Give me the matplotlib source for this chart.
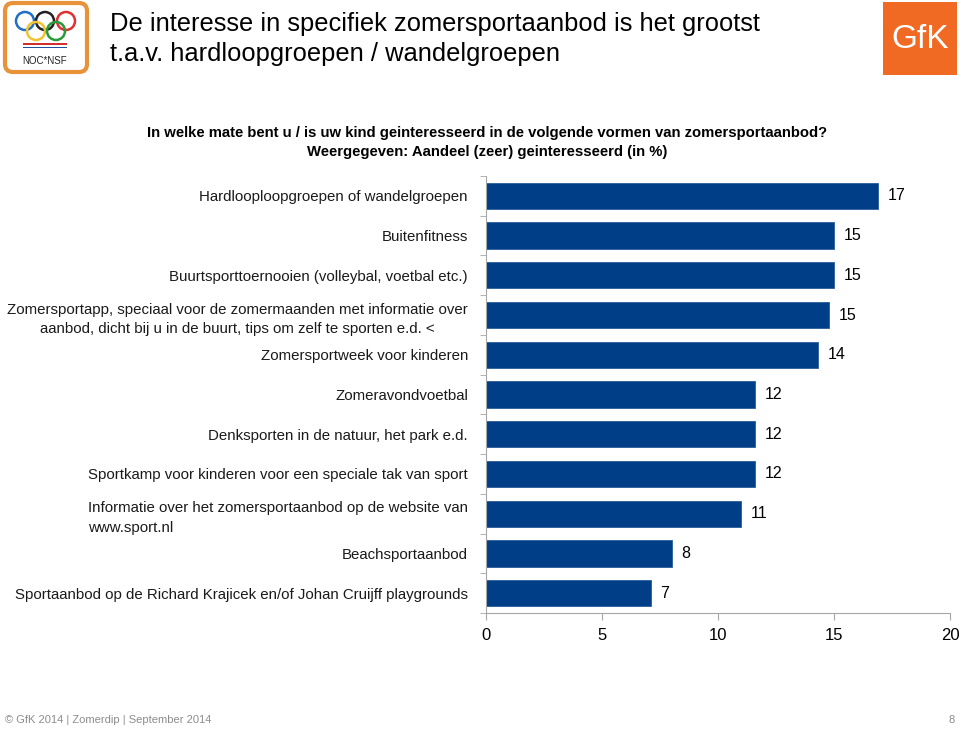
import matplotlib.pyplot as plt
from matplotlib.patches import FancyBboxPatch, Rectangle, Circle

plt.rcParams['font.family'] = ['Liberation Sans', 'DejaVu Sans']

categories = [
    'Hardlooploopgroepen of wandelgroepen',
    'Buitenfitness',
    'Buurtsporttoernooien (volleybal, voetbal etc.)',
    'Zomersportapp, speciaal voor de zomermaanden met informatie over\naanbod, dicht bij u in de buurt, tips om zelf te sporten e.d. <',
    'Zomersportweek voor kinderen',
    'Zomeravondvoetbal',
    'Denksporten in de natuur, het park e.d.',
    'Sportkamp voor kinderen voor een speciale tak van sport',
    'Informatie over het zomersportaanbod op de website van\nwww.sport.nl',
    'Beachsportaanbod',
    'Sportaanbod op de Richard Krajicek en/of Johan Cruijff playgrounds',
]
values = [16.9, 15.0, 15.0, 14.8, 14.3, 11.6, 11.6, 11.6, 11.0, 8.0, 7.1]
labels = [17, 15, 15, 15, 14, 12, 12, 12, 11, 8, 7]
xticks = [0, 5, 10, 15, 20]

bar_color = '#003f87'
axis_color = '#a6a6a6'

fig = plt.figure(figsize=(9.6, 7.3), dpi=100)
ax = fig.add_axes([486 / 960, 1 - 613 / 730, 464 / 960, 437 / 730])

ypos = list(range(len(categories)))
ax.barh(ypos, values, height=0.66, color=bar_color, edgecolor='#2a5d9a', linewidth=0.6)
for y, v, lab in zip(ypos, values, labels):
    ax.text(v + 0.42, y, str(lab), va='center', ha='left', fontsize=11.5, color='#000000')

ax.set_xlim(0, 20)
ax.set_ylim(len(categories) - 0.5, -0.5)
ax.set_xticks(xticks)
ax.set_xticklabels([str(t) for t in xticks], fontsize=12)
ax.set_yticks(ypos)
ax.set_yticklabels(categories, fontsize=10.8, color='#1a1a1a')
ylabs = ax.get_yticklabels()
ylabs[3].set_multialignment('center')
ylabs[3].set_linespacing(1.5)
ylabs[8].set_multialignment('left')
ylabs[8].set_linespacing(1.5)
ax.set_yticks([y - 0.5 for y in ypos] + [len(categories) - 0.5], minor=True)
ax.tick_params(axis='y', which='major', length=0, pad=13)
ax.tick_params(axis='y', which='minor', length=4, color=axis_color)
ax.tick_params(axis='x', length=5, color=axis_color, pad=6)
for s in ['top', 'right']:
    ax.spines[s].set_visible(False)
ax.spines['left'].set_color(axis_color)
ax.spines['bottom'].set_color(axis_color)

# title
fig.text(110 / 960, 1 - 24 / 730, 'De interesse in specifiek zomersportaanbod is het grootst',
         fontsize=18.4, va='center', ha='left')
fig.text(110 / 960, 1 - 54 / 730, 't.a.v. hardloopgroepen / wandelgroepen',
         fontsize=18.4, va='center', ha='left')

# question
fig.text(487 / 960, 1 - 133 / 730,
         'In welke mate bent u / is uw kind geinteresseerd in de volgende vormen van zomersportaanbod?',
         fontsize=10.7, fontweight='bold', ha='center', va='center')
fig.text(487 / 960, 1 - 152 / 730, 'Weergegeven: Aandeel (zeer) geinteresseerd (in %)',
         fontsize=10.7, fontweight='bold', ha='center', va='center')

# footer
fig.text(5 / 960, 1 - 720 / 730, '© GfK 2014 | Zomerdip | September 2014',
         fontsize=8, color='#8c8c8c', ha='left', va='center')
fig.text(955 / 960, 1 - 720 / 730, '8', fontsize=8, color='#8c8c8c', ha='right', va='center')

# NOC*NSF logo
lax = fig.add_axes([0, 1 - 78 / 730, 92 / 960, 78 / 730])
lax.set_xlim(0, 92)
lax.set_ylim(78, 0)
lax.axis('off')
lax.add_patch(FancyBboxPatch((5, 3), 82, 69, boxstyle='round,pad=0,rounding_size=8',
                             fc='white', ec='#e8923a', lw=3))
rings = [(25, 21, '#1f6fc4'), (45, 21, '#222222'), (66, 21, '#e03030'),
         (36, 31, '#f2c230'), (56, 31, '#2a9a3a')]
for cx, cy, c in rings:
    lax.add_patch(Circle((cx, cy), 9, fc='none', ec=c, lw=1.8))
lax.add_patch(Rectangle((23, 43), 44, 1.8, fc='#d03030', ec='none'))
lax.add_patch(Rectangle((23, 46.5), 44, 1.8, fc='#2050a0', ec='none'))
lax.text(45, 61, 'NOC*NSF', fontsize=7, ha='center', va='center', color='#222222')

# GfK logo
gax = fig.add_axes([880 / 960, 1 - 78 / 730, 80 / 960, 78 / 730])
gax.set_xlim(0, 80)
gax.set_ylim(78, 0)
gax.axis('off')
gax.add_patch(Rectangle((3, 2), 74, 73, fc='#f06a24', ec='none'))
gax.text(40, 40, 'GfK', fontsize=24, color='white', ha='center', va='center')

fig.savefig('out.png', dpi=100)
